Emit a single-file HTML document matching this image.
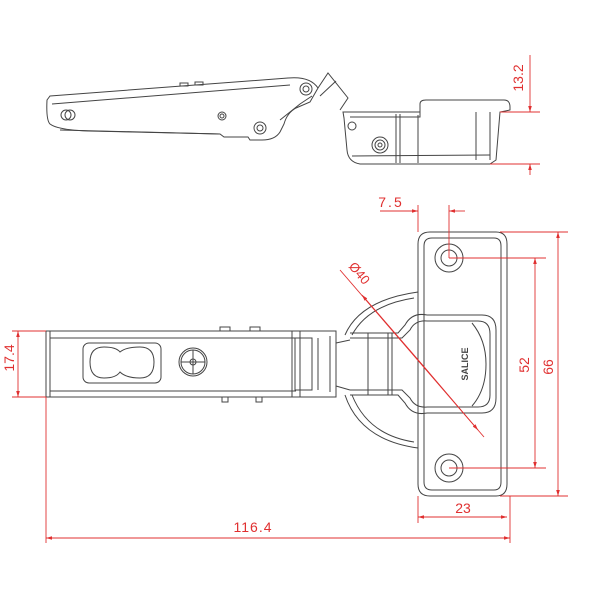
<!DOCTYPE html>
<html><head><meta charset="utf-8"><style>html,body{margin:0;padding:0;background:#fff}svg{display:block}</style></head>
<body>
<svg width="600" height="600" viewBox="0 0 600 600" xmlns="http://www.w3.org/2000/svg">
<defs>
<marker id="a" viewBox="0 0 10 6" refX="10" refY="3" markerWidth="8" markerHeight="4" orient="auto-start-reverse"><path d="M0,0 L10,3 L0,6 z" fill="#e03030"/></marker>
</defs>
<g fill="none" stroke="#444" stroke-width="1">
<!-- side view arm -->
<path d="M50,96 L288,78 Q310,76 318,88 L310,102 L296,108 Q287,113 284,124 L280,132 Q275,140 262,140 L250,140 L248,137 L224,137 L220,134 L88,131 Q58,130 50,124 Q46,120 47,100 Z"/>
<path d="M52,104 L290,85"/>
<path d="M60,130 L220,134"/>
<circle cx="70" cy="115" r="5"/><circle cx="66" cy="115" r="5"/>
<circle cx="222" cy="116" r="4"/><circle cx="222" cy="116" r="2"/>
<circle cx="306" cy="89" r="6"/><circle cx="306" cy="89" r="3"/>
<circle cx="260" cy="128" r="6"/><circle cx="260" cy="128" r="3"/>
<path d="M280,120 L300,104 L312,96"/>
<path d="M318,88 L328,73 L348,98 L340,110"/>
<path d="M320,96 L336,81"/>
<rect x="180" y="83" width="8" height="3"/><rect x="195" y="82" width="8" height="3"/>
<!-- side view cup -->
<path d="M343,112 L420,112 L420,104 Q420,100 426,100 L504,100 Q510,100 510,107 L510,110 L500,112 L496,160 L490,164 L360,164 Q348,162 347,150 L344,118 Z"/>
<path d="M345,112 L420,112 L420,117 L350,117"/>
<path d="M396,114 L396,163 M400,114 L400,163 M418,115 L418,163 M476,112 L476,160 M490,112 L490,160"/>
<path d="M352,156 L490,155"/>
<circle cx="352" cy="126" r="4"/>
<circle cx="380" cy="145" r="8"/><circle cx="380" cy="145" r="5"/><circle cx="380" cy="145" r="2"/>
<!-- front view disc -->
<path d="M418,292 Q360,300 345,335"/><path d="M345,395 Q360,440 418,448"/>
<path d="M414,298 Q368,305 352,335"/><path d="M352,395 Q368,435 414,442"/>
<!-- base plate -->
<path d="M430,232 L496,232 Q507,232 507,244 L507,484 Q507,496 496,496 L430,496 Q418,496 418,484 L418,244 Q418,232 430,232 Z"/>
<path d="M432,238 L494,238 Q501,238 501,246 L501,482 Q501,490 494,490 L432,490 Q424,490 424,482 L424,246 Q424,238 432,238 Z"/>
<circle cx="449" cy="258" r="14"/><circle cx="449" cy="258" r="8"/>
<circle cx="449" cy="468" r="14"/><circle cx="449" cy="468" r="8"/>
<!-- cup body -->
<path d="M427,315 L482,315 Q496,315 496,330 L496,398 Q496,413 482,413 L427,413"/>
<path d="M427,321 L478,321 Q490,321 490,334 L490,395 Q490,407 478,407 L427,407"/>
<path d="M472,323 Q486,340 486,364 Q486,390 472,406"/>
<path d="M427,315 Q412,312 405,325 L398,333 L350,333"/>
<path d="M427,413 Q412,416 405,403 L398,395 L350,395"/>
<path d="M427,321 Q415,320 410,330 L402,338 L350,338"/>
<path d="M427,407 Q415,408 410,398 L402,390 L350,390"/>
<path d="M368,333 L368,395 M388,333 L388,395 M392,333 L392,395"/>
<!-- arm -->
<path d="M46,331 L300,331 L300,397 L46,397 Z"/>
<path d="M50,331 L50,397"/>
<path d="M50,338 L296,338 M50,391 L296,391"/>
<rect x="83" y="343" width="78" height="40" rx="6"/>
<path d="M90,362 Q90,347 104,347 Q116,347 120,352 Q126,347 140,347 Q154,347 154,362 Q154,378 140,378 Q126,378 120,372 Q116,378 104,378 Q90,378 90,362 Z"/>
<circle cx="193" cy="362" r="14"/><circle cx="193" cy="362" r="12"/><circle cx="193" cy="362" r="3"/>
<path d="M193,350 L193,374 M181,362 L205,362"/>
<rect x="220" y="327" width="10" height="4"/><rect x="250" y="327" width="10" height="4"/>
<rect x="222" y="397" width="6" height="5"/><rect x="256" y="397" width="6" height="5"/>
<path d="M292,331 L336,331 L336,397 L292,397 Z"/>
<path d="M295,338 L312,338 L312,390 L295,390 Z"/>
<path d="M318,338 L318,390 M330,336 L330,392"/>
<path d="M336,343 L350,340 M336,386 L350,390"/>
<text x="468" y="364" font-family="Liberation Sans, sans-serif" font-size="9" font-weight="bold" fill="#444" stroke="none" transform="rotate(-90 468 364)" text-anchor="middle">SALICE</text>
</g>
<g fill="none" stroke="#e03030" stroke-width="0.9">
<!-- 13.2 -->
<line x1="500" y1="112" x2="540" y2="112"/><line x1="490" y1="164" x2="540" y2="164"/>
<line x1="530" y1="55" x2="530" y2="112" marker-end="url(#a)"/><line x1="530" y1="175" x2="530" y2="164" marker-end="url(#a)"/>
<!-- 17.4 -->
<line x1="12" y1="331" x2="46" y2="331"/><line x1="12" y1="397" x2="46" y2="397"/>
<line x1="18" y1="331" x2="18" y2="397" marker-start="url(#a)" marker-end="url(#a)"/>
<!-- 116.4 -->
<line x1="46" y1="397" x2="46" y2="543"/><line x1="510" y1="496" x2="510" y2="543"/>
<line x1="46" y1="538" x2="510" y2="538" marker-start="url(#a)" marker-end="url(#a)"/>
<!-- 23 -->
<line x1="418" y1="496" x2="418" y2="523"/>
<line x1="418" y1="517" x2="507" y2="517" marker-start="url(#a)" marker-end="url(#a)"/>
<!-- 66 -->
<line x1="500" y1="232" x2="568" y2="232"/><line x1="500" y1="496" x2="568" y2="496"/>
<line x1="558" y1="232" x2="558" y2="496" marker-start="url(#a)" marker-end="url(#a)"/>
<!-- 52 -->
<line x1="449" y1="258" x2="546" y2="258"/><line x1="449" y1="468" x2="546" y2="468"/>
<line x1="535" y1="258" x2="535" y2="468" marker-start="url(#a)" marker-end="url(#a)"/>
<!-- 7.5 -->
<line x1="418" y1="205" x2="418" y2="232"/><line x1="449" y1="205" x2="449" y2="258"/>
<line x1="380" y1="211" x2="418" y2="211" marker-end="url(#a)"/><line x1="465" y1="211" x2="449" y2="211" marker-end="url(#a)"/>
<!-- dia 40 -->
<line x1="340" y1="270" x2="484" y2="437"/>
<line x1="420" y1="362" x2="362" y2="295" marker-end="url(#a)"/>
<line x1="420" y1="362" x2="478" y2="430" marker-end="url(#a)"/>
</g>
<g fill="#e03030" font-family="Liberation Sans, sans-serif" font-size="14">
<text x="523" y="78" transform="rotate(-90 523 78)" text-anchor="middle">13.2</text>
<text x="14" y="358" transform="rotate(-90 14 358)" text-anchor="middle">17.4</text>
<text x="253" y="532" text-anchor="middle" letter-spacing="1">116.4</text>
<text x="463" y="513" text-anchor="middle">23</text>
<text x="391" y="207" text-anchor="middle" letter-spacing="2">7.5</text>
<text x="529" y="365" transform="rotate(-90 529 365)" text-anchor="middle">52</text>
<text x="553" y="367" transform="rotate(-90 553 367)" text-anchor="middle">66</text>
<text x="356" y="276" transform="rotate(50 356 276)" text-anchor="middle" font-size="13">Ø40</text>
</g>
</svg>
</body></html>
